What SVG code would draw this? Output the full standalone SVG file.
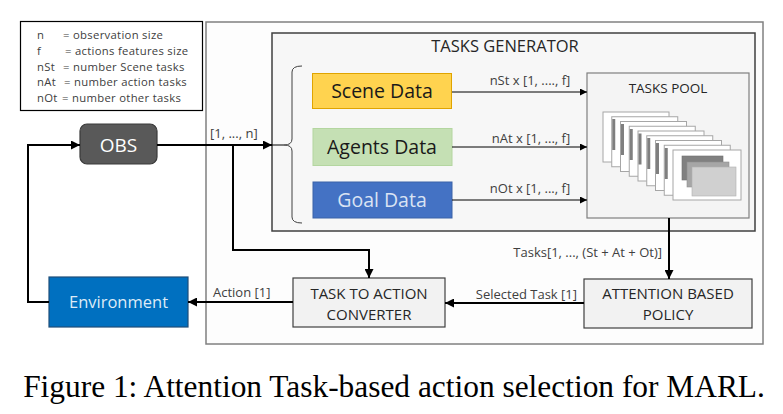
<svg xmlns="http://www.w3.org/2000/svg" width="783" height="414" viewBox="0 0 783 414">
<defs>
<style>
.t{font-family:"Open Sans","Noto Sans","DejaVu Sans",sans-serif;}
.lbl{font-family:"Open Sans","Noto Sans","DejaVu Sans",sans-serif;font-size:13px;fill:#404040;}
.leg{font-family:"Open Sans","Noto Sans","DejaVu Sans",sans-serif;font-size:11.3px;letter-spacing:0.3px;fill:#404040;}
.box{font-family:"Open Sans","Noto Sans","DejaVu Sans",sans-serif;font-size:15px;fill:#262626;text-anchor:middle;}
.thick{stroke:#000;stroke-width:2;fill:none;}
.thin{stroke:#000;stroke-width:1;fill:none;}
.card{fill:#ffffff;stroke:#a6a6a6;stroke-width:1;}
.strip{fill:#7f7f7f;}
</style>
<marker id="ah" viewBox="0 0 10 10" refX="10" refY="5" markerWidth="5" markerHeight="4.5" markerUnits="strokeWidth" orient="auto">
<path d="M0,0 L10,5 L0,10 z" fill="#000"/>
</marker>
<marker id="ahs" viewBox="0 0 10 10" refX="10" refY="5" markerWidth="9" markerHeight="7" markerUnits="strokeWidth" orient="auto">
<path d="M0,0 L10,5 L0,10 z" fill="#000"/>
</marker>
</defs>
<rect width="783" height="414" fill="#ffffff"/>

<g id="outer">
<rect x="206" y="22" width="557" height="322" fill="#fdfdfd" stroke="#808080" stroke-width="1.5"/>
</g>

<g id="legend">
<rect x="20.5" y="21.5" width="182" height="89" fill="#ffffff" stroke="#000" stroke-width="1.2"/>
<text class="leg" x="37" y="39">n</text><text class="leg" x="63" y="39">= observation size</text>
<text class="leg" x="37" y="55">f</text><text class="leg" x="65" y="55">= actions features size</text>
<text class="leg" x="37" y="70.5">nSt</text><text class="leg" x="63" y="70.5">= number Scene tasks</text>
<text class="leg" x="37" y="86">nAt</text><text class="leg" x="64" y="86">= number action tasks</text>
<text class="leg" x="37" y="101.5">nOt</text><text class="leg" x="62" y="101.5">= number other tasks</text>
</g>

<g id="tasks-generator">
<rect x="272" y="33" width="483" height="198" fill="#f7f7f7" stroke="#404040" stroke-width="1.5"/>
<text class="t" x="505" y="52" font-size="16.5" fill="#262626" text-anchor="middle">TASKS GENERATOR</text>
<path d="M302,66 Q292,66 292,72 L292,139 Q292,145 284,145 Q292,145 292,151 L292,217 Q292,223 302,223" fill="none" stroke="#404040" stroke-width="1"/>
</g>

<g id="scene-data">
<rect x="312.5" y="73.5" width="139" height="35" fill="#ffd34f" stroke="#e0a400" stroke-width="1"/>
<text class="t" x="382" y="98" font-size="19.5" fill="#1a1a1a" text-anchor="middle">Scene Data</text>
</g>
<g id="agents-data">
<rect x="313" y="128.5" width="139" height="37" fill="#c5e0b4" stroke="#b4d6a0" stroke-width="1"/>
<text class="t" x="382" y="154" font-size="19.5" fill="#1a1a1a" text-anchor="middle">Agents Data</text>
</g>
<g id="goal-data">
<rect x="313" y="182" width="139" height="36" fill="#4472c4" stroke="#3a62a8" stroke-width="1"/>
<text class="t" x="382" y="207" font-size="19.5" fill="#dae3f3" text-anchor="middle">Goal Data</text>
</g>

<g id="tasks-pool">
<rect x="587" y="73" width="162" height="145" fill="#f4f4f4" stroke="#7f7f7f" stroke-width="1.2"/>
<text class="t" x="668" y="93" font-size="13.5" fill="#262626" text-anchor="middle">TASKS POOL</text>
<rect class="card" x="603" y="112" width="66" height="50"/>
<rect class="card" x="611.75" y="116.75" width="66" height="50"/><rect class="strip" x="612.25" y="119" width="3" height="31"/>
<rect class="card" x="620.5" y="121.5" width="66" height="50"/><rect class="strip" x="621" y="124" width="3" height="31"/>
<rect class="card" x="629.25" y="126.25" width="66" height="50"/><rect class="strip" x="629.75" y="129" width="3" height="31"/>
<rect class="card" x="638" y="131" width="66" height="50"/><rect class="strip" x="638.5" y="133.5" width="3" height="31"/>
<rect class="card" x="646.75" y="135.75" width="66" height="50"/><rect class="strip" x="647.25" y="138" width="3" height="31"/>
<rect class="card" x="655.5" y="140.5" width="66" height="50"/><rect class="strip" x="656" y="143" width="3" height="31"/>
<rect class="card" x="664.25" y="145.25" width="66" height="50"/><rect class="strip" x="664.75" y="148" width="3" height="31"/>
<rect class="card" x="673" y="150" width="68" height="50"/>
<rect x="682" y="156" width="41" height="24" fill="#808080" stroke="#6f6f6f" stroke-width="0.6"/>
<rect x="687" y="162" width="42" height="25" fill="#a6a6a6" stroke="#8f8f8f" stroke-width="0.6"/>
<rect x="692" y="167" width="44" height="29" fill="#d0d0d0" stroke="#b0b0b0" stroke-width="0.6"/>
</g>

<g id="obs">
<rect x="80" y="124" width="77" height="40" rx="7" ry="7" fill="#595959" stroke="#3a3a3a" stroke-width="1.2"/>
<text class="t" x="118.5" y="151.5" font-size="19" fill="#ffffff" text-anchor="middle">OBS</text>
</g>

<g id="environment">
<rect x="49" y="277" width="139" height="50" fill="#0070c0" stroke="#1f4e79" stroke-width="1.2"/>
<text class="t" x="118.5" y="308" font-size="16.5" fill="#ddebf7" text-anchor="middle">Environment</text>
</g>

<g id="task-to-action">
<rect x="293" y="278" width="152" height="49" fill="#f2f2f2" stroke="#404040" stroke-width="1.2"/>
<text class="box" x="369" y="298.5">TASK TO ACTION</text>
<text class="box" x="369" y="319.5">CONVERTER</text>
</g>

<g id="attention-policy">
<rect x="584" y="279" width="168" height="49" fill="#f2f2f2" stroke="#404040" stroke-width="1.2"/>
<text class="box" x="668" y="298.5">ATTENTION BASED</text>
<text class="box" x="668" y="319.5">POLICY</text>
</g>

<g id="connectors">
<line class="thick" x1="157" y1="145" x2="272" y2="145" marker-end="url(#ah)"/>
<line class="thin" x1="272" y1="145" x2="284" y2="145"/>
<polyline class="thick" points="233,145 233,250 369,250 369,278" marker-end="url(#ah)"/>
<polyline class="thick" points="49,302 28,302 28,145 80,145" marker-end="url(#ah)"/>
<line class="thin" x1="452" y1="92" x2="587" y2="92" marker-end="url(#ahs)"/>
<line class="thin" x1="452" y1="147" x2="587" y2="147" marker-end="url(#ahs)"/>
<line class="thin" x1="452" y1="200" x2="587" y2="200" marker-end="url(#ahs)"/>
<line class="thick" x1="669" y1="218" x2="669" y2="279" marker-end="url(#ah)"/>
<line class="thick" x1="584" y1="303" x2="445" y2="303" marker-end="url(#ah)"/>
<line class="thick" x1="293" y1="302" x2="188" y2="302" marker-end="url(#ah)"/>
<text class="lbl" x="210" y="137.5" font-size="12.5">[1, ..., n]</text>
<text class="lbl" x="530" y="84.5" text-anchor="middle">nSt x [1, ...., f]</text>
<text class="lbl" x="531" y="142.5" text-anchor="middle">nAt x [1, ..., f]</text>
<text class="lbl" x="530" y="192.5" text-anchor="middle">nOt x [1, ..., f]</text>
<text class="lbl" x="662" y="257" text-anchor="end" font-size="13.5">Tasks[1, ..., (St + At + Ot)]</text>
<text class="lbl" x="577" y="298.5" text-anchor="end">Selected Task [1]</text>
<text class="lbl" x="213" y="296.5">Action [1]</text>
</g>

<text x="394" y="397" font-family="'Liberation Serif','Times New Roman',serif" font-size="31.4" fill="#000" text-anchor="middle">Figure 1: Attention Task-based action selection for MARL.</text>
</svg>
